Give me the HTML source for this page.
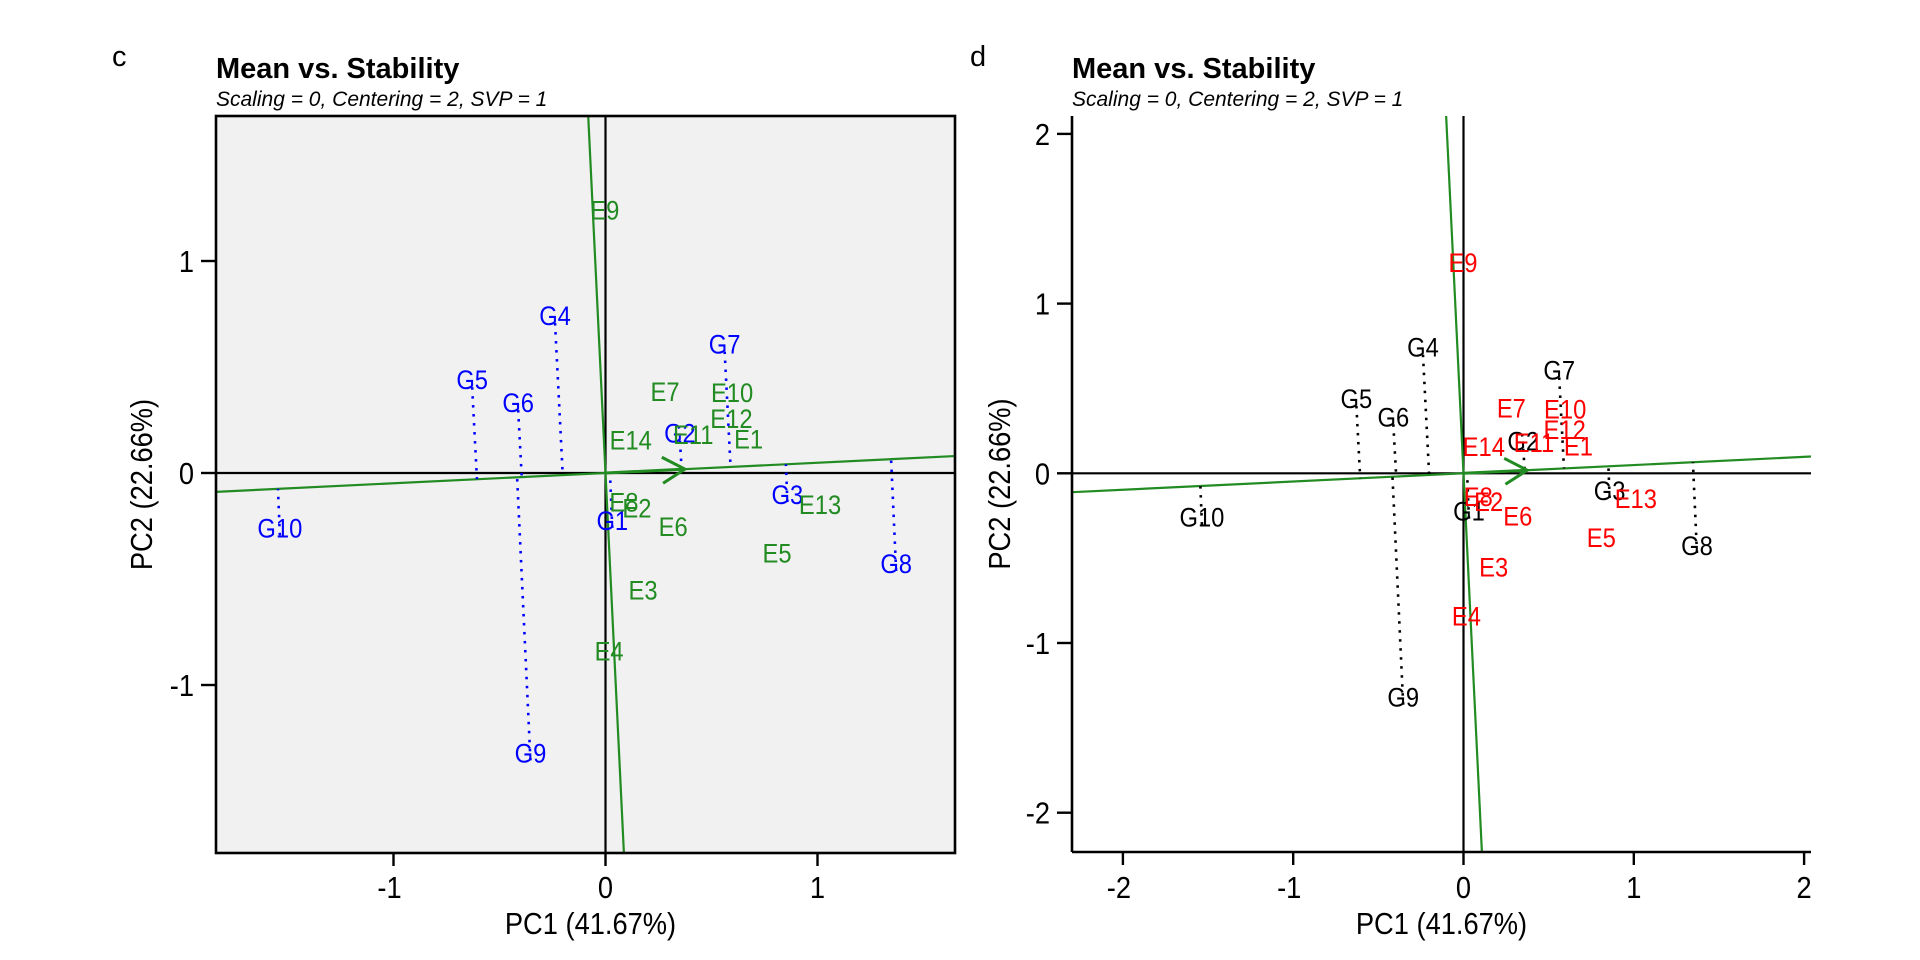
<!DOCTYPE html>
<html><head><meta charset="utf-8"><style>
html,body{margin:0;padding:0;background:#fff;width:1920px;height:960px;overflow:hidden;}
svg{display:block;font-family:"Liberation Sans",Arial,sans-serif;}
</style></head><body>
<svg id="root" width="1920" height="960" viewBox="0 0 1920 960" xmlns="http://www.w3.org/2000/svg"></svg>
<script>
const genoNames = ["G1","G2","G3","G4","G5","G6","G7","G8","G9","G10"];
const genoX = [0.032,0.351,0.858,-0.238,-0.629,-0.412,0.562,1.371,-0.354,-1.536];
const genoY = [-0.226,0.186,-0.104,0.740,0.438,0.330,0.606,-0.429,-1.322,-0.261];
const envNames = ["E1","E2","E3","E4","E5","E6","E7","E8","E9","E10","E11","E12","E13","E14"];
const envX = [0.675,0.148,0.177,0.017,0.809,0.319,0.281,0.087,-0.003,0.597,0.414,0.594,1.012,0.119];
const envY = [0.157,-0.168,-0.554,-0.843,-0.380,-0.255,0.383,-0.139,1.238,0.377,0.180,0.255,-0.151,0.154];
const ticksC = [-1,0,1];
const ticksD = [-2,-1,0,1,2];

const NS="http://www.w3.org/2000/svg";
const root=document.getElementById('root');
function mk(tag,attrs,parent){const e=document.createElementNS(NS,tag);for(const k in attrs)e.setAttribute(k,attrs[k]);(parent||root).appendChild(e);return e;}
function txt(x,y,str,attrs,parent,rot,sc){
  const k=(sc===undefined)?0.88:sc;
  const tr=`translate(${x},${y})`+(rot?' rotate(-90)':'')+` scale(${k},1)`;
  const a=Object.assign({x:0,y:0,transform:tr},attrs);
  const t=mk('text',a,parent); t.textContent=str; return t;
}

function panel(cfg){
  const g=mk('g',{});
  
  
  const sx=v=>cfg.x0+v*cfg.ux, sy=v=>cfg.y0-v*cfg.uy;
  const L=cfg.left,R=cfg.right,T=cfg.top,B=cfg.bottom;
  const clipId='clip-'+cfg.id;
  const cp=mk('clipPath',{id:clipId},g); mk('rect',{x:L,y:T,width:R-L,height:B-T},cp);
  if(cfg.bg){const bg=mk('rect',{x:L,y:T,width:R-L,height:B-T,fill:cfg.bg},g);
    
    }
  const pl=mk('g',{'clip-path':'url(#'+clipId+')'},g);
  const zx=mk('line',{x1:L,x2:R,y1:sy(0),y2:sy(0),stroke:'#000','stroke-width':2.2},pl);
  
  
  const zy=mk('line',{x1:sx(0),x2:sx(0),y1:T,y2:B,stroke:'#000','stroke-width':2.2},pl);
  
  
  let mx=0,my=0; for(let i=0;i<envX.length;i++){mx+=envX[i];my+=envY[i];} mx/=envX.length; my/=envX.length;
  const s=my/mx;
  const xa=(L-cfg.x0)/cfg.ux, xb=(R-cfg.x0)/cfg.ux;
  const ya=(cfg.y0-B)/cfg.uy, yb=(cfg.y0-T)/cfg.uy;
  const aea=mk('line',{x1:sx(xa),y1:sy(xa*s),x2:sx(xb),y2:sy(xb*s),stroke:'#228B22','stroke-width':2.2},pl);
  
  
  const perp=mk('line',{x1:sx(-ya*s),y1:sy(ya),x2:sx(-yb*s),y2:sy(yb),stroke:'#228B22','stroke-width':2.2},pl);
  
  
  for(let i=0;i<genoX.length;i++){
    const t=(genoX[i]+genoY[i]*s)/(1+s*s);
    const d=mk('line',{x1:sx(genoX[i]),y1:sy(genoY[i])+7,x2:sx(t),y2:sy(t*s),stroke:cfg.dotColor,'stroke-width':2.6,'stroke-dasharray':'2.5 6.5'},pl);
    
    
  }
  const ax=sx(mx),ay=sy(my),ox=sx(0),oy=sy(0);
  const ang=Math.atan2(ay-oy,ax-ox);
  const ar=mk('g',{stroke:'#228B22','stroke-width':3,fill:'none'},pl);
  
  
  mk('line',{x1:ox,y1:oy,x2:ax,y2:ay},ar);
  const hl=26,ha=Math.PI/6;
  mk('polyline',{points:`${ax-hl*Math.cos(ang-ha)},${ay-hl*Math.sin(ang-ha)} ${ax},${ay} ${ax-hl*Math.cos(ang+ha)},${ay-hl*Math.sin(ang+ha)}`},ar);
  for(let i=0;i<genoX.length;i++){
    const t=txt(sx(genoX[i]),sy(genoY[i])+9,genoNames[i],{'text-anchor':'middle','font-size':27,fill:cfg.gColor},pl);
    
    
  }
  for(let i=0;i<envX.length;i++){
    const t=txt(sx(envX[i]),sy(envY[i])+9,envNames[i],{'text-anchor':'middle','font-size':27,fill:cfg.eColor},pl);
    
    
  }
  if(cfg.box){
    const f=mk('rect',{x:L,y:T,width:R-L,height:B-T,fill:'none',stroke:'#000','stroke-width':2.6},g);
    
    
  } else {
    const a1=mk('line',{x1:L,x2:L,y1:T,y2:B,stroke:'#000','stroke-width':2.6},g);
    
    
    const a2=mk('line',{x1:L,x2:R,y1:B,y2:B,stroke:'#000','stroke-width':2.6},g);
    
    
  }
  for(const v of cfg.ticks){
    const lab=v<0?('-'+(-v)):String(v);
    if(sx(v)>=L-1&&sx(v)<=R+1){
      mk('line',{x1:sx(v),x2:sx(v),y1:B,y2:B+13,stroke:'#000','stroke-width':2.4},g);
      const t=txt(sx(v)+(v<0?-4:0),898,lab,{'text-anchor':'middle','font-size':31},g);
      
      
    }
    if(sy(v)>=T-1&&sy(v)<=B+1){
      mk('line',{x1:L-15,x2:L,y1:sy(v),y2:sy(v),stroke:'#000','stroke-width':2.4},g);
      const t=txt(L-22,sy(v)+11,lab,{'text-anchor':'end','font-size':31},g);
      
      
    }
  }
  const xt=txt((L+R)/2-cfg.xtOff,934,'PC1 (41.67%)',{'text-anchor':'middle','font-size':31},g);
  
  
  const yt=txt(cfg.ytX,(T+B)/2,'PC2 (22.66%)',{'text-anchor':'middle','font-size':31},g,true);
  
  
  const tl=txt(L,78,'Mean vs. Stability',{'font-size':29,'font-weight':'bold'},g,false,1);
  
  
  const st=txt(L,106,'Scaling = 0, Centering = 2, SVP = 1',{'font-size':21,'font-style':'italic'},g,false,1);
  
  
  const pl2=txt(cfg.tagX,66,cfg.id,{'font-size':29},g,false,1);
  
  
}
panel({id:'c',x0:605.5,y0:473,ux:212,uy:212,left:216,right:955,top:116,bottom:853,bg:'#F1F1F1',box:true,
  dotColor:'#0000FF',gColor:'#0000FF',eColor:'#228B22',ticks:ticksC,ytX:152,tagX:112,xtOff:-5});
panel({id:'d',x0:1463.5,y0:473.3,ux:170.3,uy:169.7,left:1072,right:1811,top:116,bottom:852,bg:null,box:false,
  dotColor:'#000',gColor:'#000',eColor:'#FF0000',ticks:ticksD,ytX:1010,tagX:970,xtOff:0});
</script>
</body></html>
